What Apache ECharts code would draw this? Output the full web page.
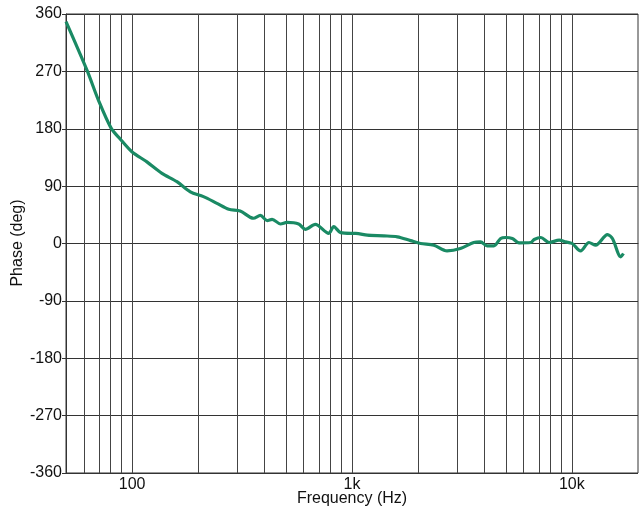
<!DOCTYPE html>
<html>
<head>
<meta charset="utf-8">
<script src="https://cdn.jsdelivr.net/npm/echarts@6/dist/echarts.min.js"></script>
<style>html,body{margin:0;padding:0;background:#fff}#c{width:639px;height:514px}</style>
</head>
<body>
<div id="c"></div>
<script>
const freqHz = [50, 62.6, 70.2, 80.2, 88.2, 99.7, 116.7, 136.6, 159.8, 183.8, 211, 243, 275, 310, 356, 383, 411, 433, 473, 506, 572, 613, 681, 784, 826, 888, 988, 1040, 1175, 1397, 1608, 1846, 2050, 2358, 2706, 3113, 3580, 3840, 4119, 4420, 4745, 5000, 5360, 5750, 6500, 6740, 7230, 7880, 8760, 9380, 10040, 10960, 11970, 12840, 14520, 15300, 16700, 17170];
const phaseDeg = [348, 270, 225, 181, 164, 144, 128, 110, 97, 81, 73.5, 63, 53.6, 51, 39.6, 44, 36, 38, 30.6, 33, 30.6, 22.2, 30, 16, 26.5, 17, 16, 16, 13, 12, 10.5, 4.5, 0, -2.7, -11.6, -7.9, 1.6, 2.6, -3.7, -3.7, 7.9, 9.4, 7.9, 1, 1.6, 6.3, 9.4, 1.6, 5.2, 2.5, 0, -11.6, 1.6, -2.7, 14, 7.9, -20.9, -15.7];
const gridFreqs = [60, 70, 80, 90, 100, 200, 300, 400, 500, 600, 700, 800, 900, 1000, 2000, 3000, 4000, 5000, 6000, 7000, 8000, 9000, 10000];
const labelFreqs = [100, 1000, 10000];
const labelTexts = {100: '100', 1000: '1k', 10000: '10k'};
const xName = 'Frequency (Hz)';
const yName = 'Phase (deg)';

const data = freqHz.map((f, i) => [Math.log10(f), phaseDeg[i]]);
const chart = echarts.init(document.getElementById('c'), null, {renderer: 'canvas'});
const font = 'Liberation Sans, Arial, sans-serif';
chart.setOption({
  animation: false,
  grid: {left: 66, right: 1, top: 14, bottom: 41, containLabel: false, outerBoundsMode: 'none',
         show: true, borderColor: '#333', borderWidth: 1},
  graphic: [
    {type: 'text', x: 352, y: 499, style: {text: xName, font: '16px ' + font, fill: '#111', align: 'center', verticalAlign: 'middle'}},
    {type: 'text', x: 18, y: 243, rotation: Math.PI / 2, style: {text: yName, font: '16px ' + font, fill: '#111', align: 'center', verticalAlign: 'middle'}}
  ],
  xAxis: {
    type: 'value', min: Math.log10(50), max: Math.log10(20000),
    axisLine: {show: true, lineStyle: {color: '#333'}},
    axisTick: {show: false},
    splitLine: {show: false},
    axisLabel: {
      customValues: labelFreqs.map(f => Math.log10(f)),
      formatter: v => labelTexts[Math.round(Math.pow(10, v))] || '',
      fontFamily: font, fontSize: 16, color: '#111', margin: 4
    }
  },
  yAxis: {
    type: 'value', min: -360, max: 360, interval: 90,
    axisLine: {show: true, lineStyle: {color: '#333'}},
    axisTick: {show: true, length: 4, inside: false, lineStyle: {color: '#333'}},
    splitLine: {show: true, lineStyle: {color: '#333', width: 1}},
    axisLabel: {fontFamily: font, fontSize: 16, color: '#111', margin: 4}
  },
  series: [{
    type: 'line', data: data, showSymbol: false, smooth: 0.3,
    lineStyle: {color: '#1a8a64', width: 3.2},
    markLine: {
      silent: true, symbol: ['none', 'none'], label: {show: false},
      lineStyle: {color: '#444', width: 1, type: 'solid'},
      data: gridFreqs.map(f => ({xAxis: Math.log10(f)}))
    },
    z: 5
  }]
});
</script>
</body>
</html>
